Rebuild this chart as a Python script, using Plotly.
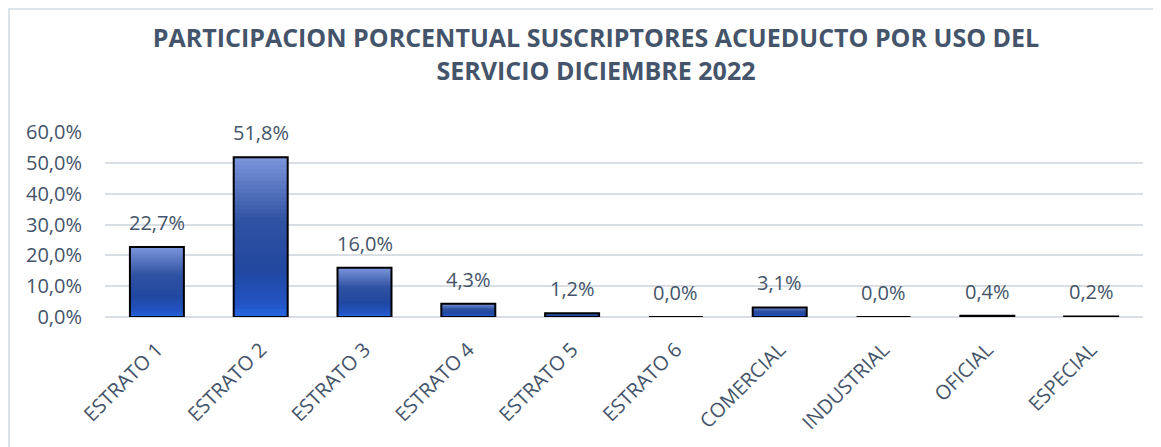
import plotly.graph_objects as go

categories = ["ESTRATO 1", "ESTRATO 2", "ESTRATO 3", "ESTRATO 4", "ESTRATO 5",
              "ESTRATO 6", "COMERCIAL", "INDUSTRIAL", "OFICIAL", "ESPECIAL"]
values = [22.7, 51.8, 16.0, 4.3, 1.2, 0.0, 3.1, 0.0, 0.4, 0.2]
y_ticks = [0, 10, 20, 30, 40, 50, 60]
y_tick_labels = ["0,0%", "10,0%", "20,0%", "30,0%", "40,0%", "50,0%", "60,0%"]

title_text = "PARTICIPACION PORCENTUAL SUSCRIPTORES ACUEDUCTO POR USO DEL<br>SERVICIO DICIEMBRE 2022"

# the page body has an 8px margin, so the figure is sized to fit the window
W, H = 1153, 439
ML, MR, MT, MB = 97, 18, 124, 130

TEXT = "#44546a"
FONT = "Open Sans"

# vertical gradient stops (fraction from bottom, rgb)
stops = [(0.0, (38, 104, 226)), (0.08, (34, 84, 196)), (0.3, (33, 72, 160)),
         (0.6, (48, 82, 162)), (1.0, (124, 150, 220))]


def grad(f):
    for (f0, c0), (f1, c1) in zip(stops[:-1], stops[1:]):
        if f0 <= f <= f1:
            t = (f - f0) / (f1 - f0)
            return "rgb(%d,%d,%d)" % tuple(round(a + (b - a) * t) for a, b in zip(c0, c1))
    return "rgb(%d,%d,%d)" % stops[-1][1]


fig = go.Figure()
N = 40
for k in range(N):
    ftop = 1 - k / N
    fig.add_trace(go.Bar(
        x=categories,
        y=[v * ftop for v in values],
        marker=dict(color=grad(ftop - 0.5 / N), line=dict(width=0)),
        width=0.52, hoverinfo="skip", showlegend=False,
    ))

# outline
fig.add_trace(go.Bar(
    x=categories, y=values,
    marker=dict(color="rgba(0,0,0,0)", line=dict(color="#000000", width=2)),
    width=0.52, showlegend=False,
))

for c, v in zip(categories, values):
    fig.add_annotation(
        x=c, y=v, xref="x", yref="y", yanchor="bottom",
        text=("%.1f" % v).replace(".", ",") + "%",
        showarrow=False, yshift=9,
        font=dict(family=FONT, size=20, color=TEXT),
    )

# outer frame
pw = W - ML - MR
ph = H - MT - MB
fx0 = (1 - ML) / pw
fx1 = (W + 10 - ML) / pw
fy1 = (H - 1 - MB) / ph
fy0 = (-20 - MB) / ph
fig.add_shape(type="rect", xref="paper", yref="paper",
              x0=fx0, x1=fx1, y0=fy0, y1=fy1,
              line=dict(color="#dde3ea", width=2), layer="below")

fig.update_layout(
    width=W, height=H,
    margin=dict(l=ML, r=MR, t=MT, b=MB),
    paper_bgcolor="white", plot_bgcolor="white",
    barmode="overlay", bargap=0.48,
    title=dict(text=title_text, x=588 / W, xref="container", xanchor="center",
               y=1 - 39 / H, yref="container", yanchor="top",
               font=dict(family=FONT, size=25, color=TEXT, weight="bold")),
    xaxis=dict(showgrid=False, showline=False, tickangle=-45, ticks="",
               tickfont=dict(family=FONT, size=20, color=TEXT),
               ticklabelstandoff=16),
    yaxis=dict(range=[0, 60], tickvals=y_ticks, ticktext=y_tick_labels,
               showgrid=True, gridcolor="#d9dde4", gridwidth=1.5,
               zeroline=True, zerolinecolor="#d9dde4", zerolinewidth=1.5,
               showline=False, ticks="",
               tickfont=dict(family=FONT, size=20, color=TEXT),
               ticklabelstandoff=22),
)

fig.write_html("out.html")
